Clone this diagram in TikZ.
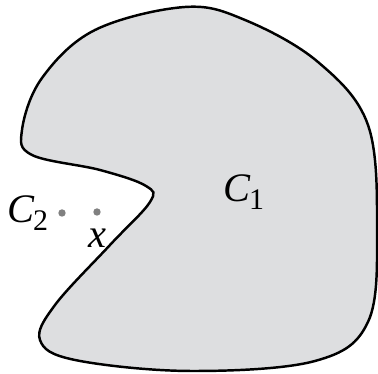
\documentclass[tikz,border=0pt]{standalone}
\usepackage{fontspec}
\setmainfont{Liberation Serif}
\usetikzlibrary{positioning}

\definecolor{regiongray}{RGB}{221,222,224}
\definecolor{dotgray}{RGB}{128,128,128}

\newcommand{\setname}[2]{\textit{#1}\kern-0.6pt\raisebox{-0.45ex}{\fontsize{8.5}{9}\selectfont #2}}

\tikzset{
  region/.style={draw=black, line width=0.7pt, fill=regiongray},
  pointdot/.style={circle, fill=dotgray, inner sep=0pt, minimum size=2.1pt},
  setlabel/.style={inner sep=1pt, font=\fontsize{11.5}{13}\selectfont}
}

\begin{document}
\begin{tikzpicture}[x=0.01cm, y=-0.01cm]

    % Margins of the page
    \useasboundingbox (0,0) rectangle (378,374);

    % ---- the set C_1 ----
    \draw[region] plot[smooth cycle, tension=0.6] coordinates {
        (185,7) (95,30) (42,78) (22,130) (32,155) (100,170)
        (146,186) (150,202) (110,245) (55,305) (40,340) (75,360)
        (190,371) (315,361) (368,322) (377,230) (368,125)
        (318,62) (245,20)
    };

    % ---- points ----
    \node[pointdot] (c2dot) at (62,213) {};
    \node[pointdot] (xdot) at (97,212) {};

    % ---- labels ----
    \node[setlabel, left=1.5pt of c2dot] (c2label) {\setname{C}{2}};
    \node[setlabel, below=2.5pt of xdot] (xlabel) {\textit{x}};
    \node[setlabel] (c1label) at (244,192) {\setname{C}{1}};

\end{tikzpicture}
\end{document}
